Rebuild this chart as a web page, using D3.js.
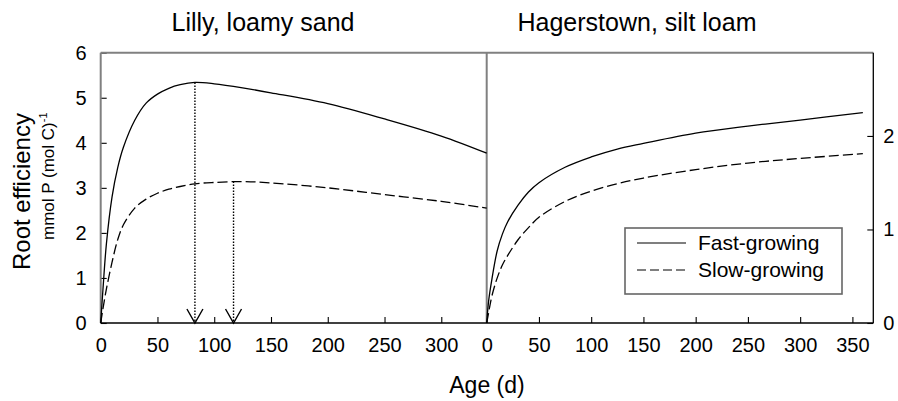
<!DOCTYPE html>
<html>
<head>
<meta charset="utf-8">
<script src="https://cdn.jsdelivr.net/npm/d3@7"></script>
<style>
	body { margin: 0; background: #fff; }
	svg text { font-family: "Liberation Sans", Arial, sans-serif; fill: #000; }
</style>
</head>
<body>
<div id="chart"></div>
<script>

// Lilly, loamy sand: age (d) and root efficiency, left axis units
var lillyAge  = [0, 2, 5, 10, 15, 20, 30, 40, 50, 60, 70, 83, 100, 125, 150, 200, 250, 300, 340];
var lillyFast = [0, 0.75, 1.75, 2.8, 3.45, 3.9, 4.5, 4.88, 5.08, 5.21, 5.29, 5.34, 5.31, 5.22, 5.11, 4.87, 4.53, 4.15, 3.77];
var lillySlow = [0, 0.32, 0.75, 1.35, 1.85, 2.18, 2.55, 2.75, 2.88, 2.97, 3.03, 3.09, 3.12, 3.14, 3.11, 3.0, 2.85, 2.7, 2.55];

// Maxima of the Lilly curves, marked with dotted arrows
var peakAge   = [83, 117];
var peakValue = [5.34, 3.14];

// Hagerstown, silt loam: values in right axis units
var hagerAge  = [0, 2, 5, 10, 15, 20, 30, 40, 50, 75, 100, 125, 150, 200, 250, 300, 360];
var hagerFast = [0, 0.25, 0.47, 0.77, 0.95, 1.08, 1.26, 1.40, 1.50, 1.665, 1.775, 1.86, 1.92, 2.03, 2.105, 2.17, 2.25];
var hagerSlow = [0, 0.12, 0.29, 0.48, 0.62, 0.72, 0.89, 1.02, 1.13, 1.30, 1.41, 1.49, 1.55, 1.64, 1.71, 1.76, 1.81];

// Tick labels
var leftYTicks  = [0, 1, 2, 3, 4, 5, 6];
var rightYTicks = [0, 1, 2];
var lillyXTicks = [0, 50, 100, 150, 200, 250, 300];
var hagerXTicks = [0, 50, 100, 150, 200, 250, 300, 350];

var seriesNames = ["Fast-growing", "Slow-growing"];
var panelTitles = ["Lilly, loamy sand", "Hagerstown, silt loam"];

var width = 898;
var height = 401;

var top0 = 52.7;		// top of the plot frame
var bottom0 = 323;		// x axis line
var left0 = 100.7;		// left axis
var mid0 = 486.7;		// divider between the panels
var right0 = 873.3;		// right axis

var svg = d3.select("#chart").append("svg")
	.attr("width", width)
	.attr("height", height);

var xLilly = d3.scaleLinear().domain([0, 340]).range([left0, mid0]);
var xHager = d3.scaleLinear().domain([0, 370]).range([mid0, right0]);
var yLeft  = d3.scaleLinear().domain([0, 6]).range([bottom0, top0]);
var yRight = d3.scaleLinear().domain([0, 2.89]).range([bottom0, top0]);

/*
 * Line generator for one panel
 */
var makeLine = function(x, y, ages) {
	return d3.line()
		.x(function(d, i) { return x(ages[i]); })
		.y(function(d) { return y(d); })
		.curve(d3.curveCatmullRom.alpha(0.5));
};

var lillyLine = makeLine(xLilly, yLeft, lillyAge);
var hagerLine = makeLine(xHager, yRight, hagerAge);

// Axes (ticks point inwards)
var fmt = d3.format("d");

var styleAxis = function(g, size) {
	g.select(".domain").remove();
	g.selectAll(".tick line").attr("stroke", "#000").attr("stroke-width", 1.1);
	g.selectAll(".tick text").style("font-size", size + "px");
};

svg.append("g")
	.attr("transform", "translate(" + left0 + ",0)")
	.call(d3.axisLeft(yLeft).tickValues(leftYTicks).tickFormat(fmt)
		.tickSizeInner(-6).tickSizeOuter(0).tickPadding(14))
	.call(styleAxis, 20);

svg.append("g")
	.attr("transform", "translate(" + right0 + ",0)")
	.call(d3.axisRight(yRight).tickValues(rightYTicks).tickFormat(fmt)
		.tickSizeInner(-6).tickSizeOuter(0).tickPadding(10))
	.call(styleAxis, 20);

svg.append("g")
	.attr("transform", "translate(0," + bottom0 + ")")
	.call(d3.axisBottom(xLilly).tickValues(lillyXTicks).tickFormat(fmt)
		.tickSizeInner(-6).tickSizeOuter(0).tickPadding(15))
	.call(styleAxis, 20);

svg.append("g")
	.attr("transform", "translate(0," + bottom0 + ")")
	.call(d3.axisBottom(xHager).tickValues(hagerXTicks).tickFormat(fmt)
		.tickSizeInner(-6).tickSizeOuter(0).tickPadding(15))
	.call(styleAxis, 20);

// Frame: grey top, left and divider, black bottom and right
var frame = svg.append("g").attr("fill", "none");
frame.append("line").attr("x1", left0).attr("x2", right0).attr("y1", top0).attr("y2", top0)
	.attr("stroke", "#808080").attr("stroke-width", 2);
frame.append("line").attr("x1", left0).attr("x2", left0).attr("y1", top0).attr("y2", bottom0)
	.attr("stroke", "#808080").attr("stroke-width", 2);
frame.append("line").attr("x1", mid0).attr("x2", mid0).attr("y1", top0).attr("y2", bottom0)
	.attr("stroke", "#808080").attr("stroke-width", 2);
frame.append("line").attr("x1", left0).attr("x2", right0).attr("y1", bottom0).attr("y2", bottom0)
	.attr("stroke", "#000").attr("stroke-width", 1.3);
frame.append("line").attr("x1", right0).attr("x2", right0).attr("y1", top0).attr("y2", bottom0)
	.attr("stroke", "#000").attr("stroke-width", 1.3);

// Curves
var curves = svg.append("g").attr("fill", "none").attr("stroke", "#000").attr("stroke-width", 1.3);
curves.append("path").attr("d", lillyLine(lillyFast));
curves.append("path").attr("d", lillyLine(lillySlow)).attr("stroke-dasharray", "10,4");
curves.append("path").attr("d", hagerLine(hagerFast));
curves.append("path").attr("d", hagerLine(hagerSlow)).attr("stroke-dasharray", "10,4");

// Dotted arrows from the maxima down to the age axis
var arrows = svg.append("g").attr("fill", "none").attr("stroke", "#000");
peakAge.forEach(function(a, i) {
	var px = xLilly(a);
	arrows.append("line")
		.attr("x1", px).attr("x2", px)
		.attr("y1", yLeft(peakValue[i])).attr("y2", bottom0)
		.attr("stroke-width", 1.4)
		.attr("stroke-dasharray", "1.5,1.5");
	arrows.append("path")
		.attr("d", "M" + (px - 8) + "," + (bottom0 - 14) + "L" + px + "," + bottom0 + "L" + (px + 8) + "," + (bottom0 - 14))
		.attr("stroke-width", 1.4);
});

// Panel titles
svg.selectAll("text.title")
	.data(panelTitles)
	.enter().append("text")
	.attr("class", "title")
	.attr("x", function(d, i) { return i == 0 ? 263 : 637; })
	.attr("y", 31)
	.attr("text-anchor", "middle")
	.style("font-size", "25px")
	.text(function(d) { return d; });

// Axis titles
svg.append("text")
	.attr("x", 487).attr("y", 393)
	.attr("text-anchor", "middle")
	.style("font-size", "23px")
	.text("Age (d)");

svg.append("text")
	.attr("transform", "translate(30,270) rotate(-90)")
	.attr("text-anchor", "start")
	.style("font-size", "24px")
	.text("Root efficiency");

var unit = svg.append("text")
	.attr("transform", "translate(54,240) rotate(-90)")
	.attr("text-anchor", "start")
	.style("font-size", "17px");
unit.append("tspan").text("mmol P (mol C)");
unit.append("tspan").attr("dy", -7).style("font-size", "11px").text("-1");

// Legend
var legend = svg.append("g");
legend.append("rect")
	.attr("x", 625).attr("y", 228)
	.attr("width", 217).attr("height", 66)
	.attr("fill", "#fff")
	.attr("stroke", "#666").attr("stroke-width", 1.6);

var items = legend.selectAll("g.item")
	.data(seriesNames)
	.enter().append("g")
	.attr("class", "item")
	.attr("transform", function(d, i) { return "translate(0," + (243 + i * 27) + ")"; });

items.append("line")
	.attr("x1", 637).attr("x2", 686)
	.attr("stroke", "#555").attr("stroke-width", 1.3)
	.attr("stroke-dasharray", function(d, i) { return i == 0 ? null : "9,4"; });

items.append("text")
	.attr("x", 698).attr("y", 7)
	.style("font-size", "21px")
	.text(function(d) { return d; });

</script>
</body>
</html>
